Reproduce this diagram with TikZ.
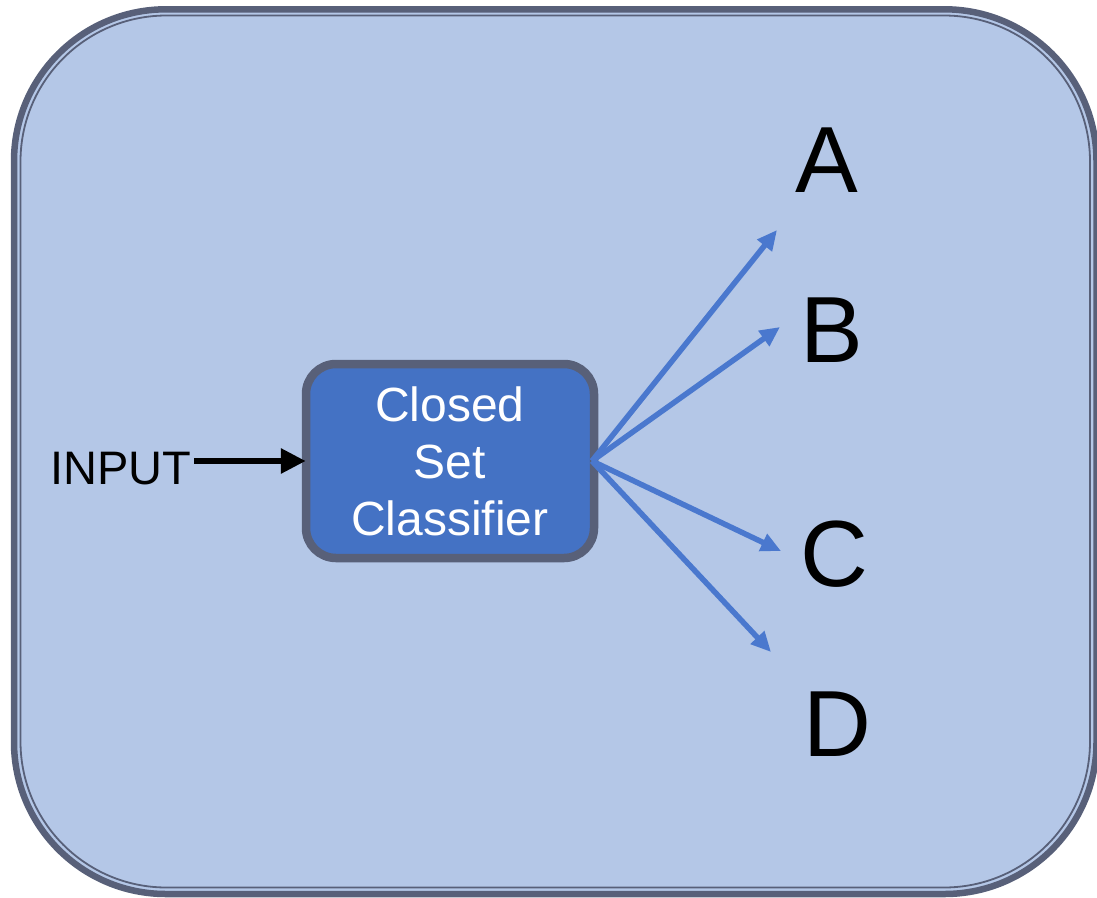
\documentclass[tikz,border=0pt]{standalone}
\usepackage{fontspec}
\setmainfont{Liberation Sans}
\usetikzlibrary{arrows.meta}
\definecolor{panelfill}{HTML}{B4C7E7}
\definecolor{edgedark}{HTML}{586079}
\definecolor{boxblue}{HTML}{4472C4}
\definecolor{arrowblue}{HTML}{4A78CE}
\tikzset{
  letter/.style={anchor=base, inner sep=0pt, font=\fontsize{94}{113}\selectfont},
  classbox/.style={draw=edgedark, line width=8.5pt, fill=boxblue, rounded corners=30pt,
    minimum width=288pt, minimum height=194pt, text=white, align=center,
    font=\fontsize{48}{57}\selectfont, inner sep=0pt},
  outarrow/.style={draw=arrowblue, line width=5.5pt, -{Triangle[length=20pt,width=18pt]}},
  inarrow/.style={draw=black, line width=6pt, -{Triangle[length=25pt,width=24pt]}}
}
\begin{document}
\begin{tikzpicture}[x=1pt,y=-1pt]
\useasboundingbox (0,0) rectangle (1097,897);
% outer panel
\draw[fill=panelfill, draw=edgedark, line width=6.5pt, rounded corners=152pt] (14,9.3) rectangle (1096.5,894);
\draw[draw=edgedark, line width=1.8pt, rounded corners=146pt] (20.5,15.5) rectangle (1090,887.5);
% classifier
\node[classbox] (cls) at (450,461) {Closed\\Set\\Classifier};
\draw[draw=edgedark, line width=1.8pt, rounded corners=24pt]
  ([shift={(7,7)}]cls.north west) rectangle ([shift={(-7,-7)}]cls.south east);
% input
\node[anchor=base west, inner sep=0pt, font=\fontsize{47}{57}\selectfont] (inp) at (50,484) {INPUT};
\draw[inarrow] ([xshift=3]inp.east |- cls.west) -- ([xshift=4]cls.west);
% outputs
\node[letter] (A) at (827,192) {A};
\node[letter] (B) at (832,362) {B};
\node[letter] (C) at (834,586) {C};
\node[letter] (D) at (837,756) {D};
\coordinate (src) at (592,461);
\coordinate (tA) at (777,230);
\coordinate (tB) at (780,327);
\coordinate (tC) at (781,551);
\coordinate (tD) at (771,652);
\draw[outarrow] (src) -- (tA);
\draw[outarrow] (src) -- (tB);
\draw[outarrow] (src) -- (tC);
\draw[outarrow] (src) -- (tD);
\end{tikzpicture}
\end{document}
